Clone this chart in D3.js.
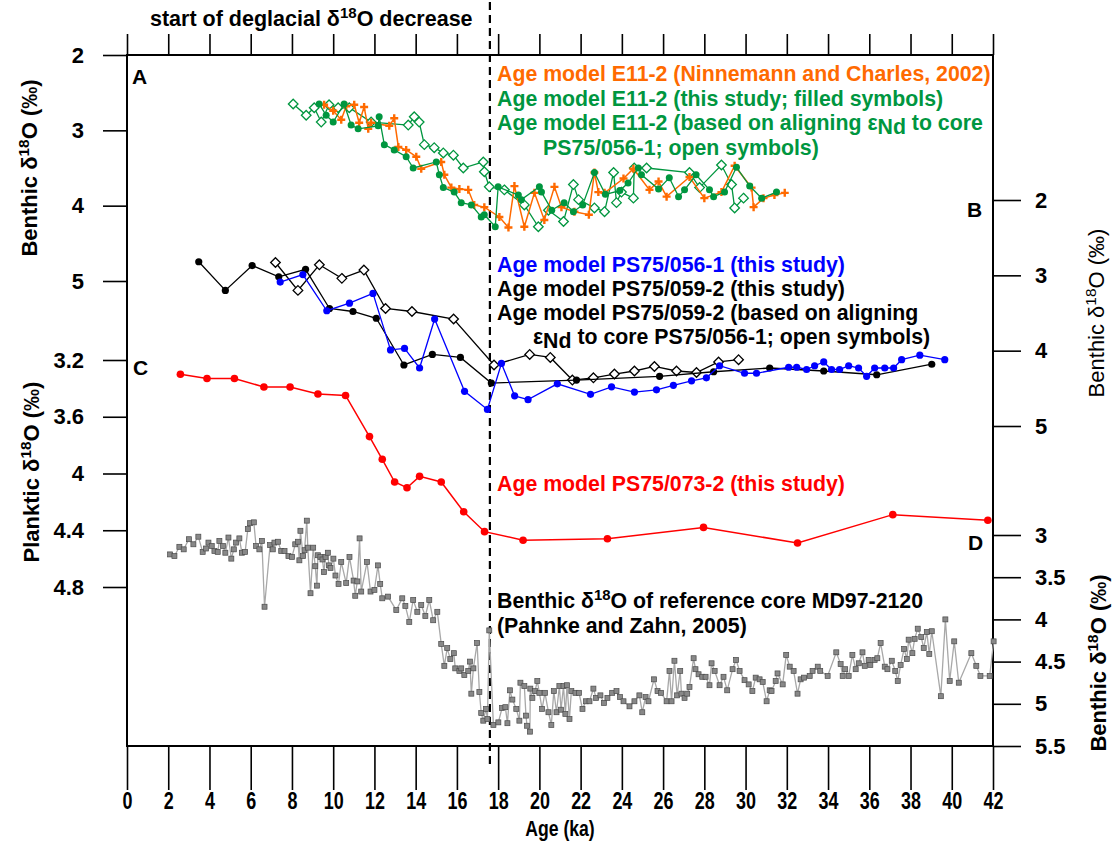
<!DOCTYPE html>
<html>
<head>
<meta charset="utf-8">
<script src="https://cdn.jsdelivr.net/npm/d3@7/dist/d3.min.js"></script>
<style>
  body { margin: 0; background: #fff; }
</style>
</head>
<body>
<div id="chart"></div>
<script>
// ---- data (age ka, d18O permil) ----
const ageTicks = [0,2,4,6,8,10,12,14,16,18,20,22,24,26,28,30,32,34,36,38,40,42];
const tickA = [2,3,4,5];
const tickB = [2,3,4,5];
const tickC = [3.2,3.6,4,4.4,4.8];
const tickD = [3,3.5,4,4.5,5,5.5];
const deglacialStart = 17.6;

// panel A: core E11-2
const e11Ninnemann = [[9.56,2.66],[10.0,2.74],[10.39,2.86],[10.63,2.68],[11.02,2.66],[11.26,2.90],[11.5,2.69],[11.7,2.98],[11.84,2.90],[12.72,2.94],[12.96,2.84],[13.16,3.22],[13.54,3.26],[14.03,3.35],[14.27,3.51],[15.24,3.42],[15.39,3.59],[15.73,3.76],[16.12,3.78],[16.55,3.79],[16.84,3.99],[17.33,4.02],[18.06,4.15],[18.5,4.29],[18.79,3.74],[19.27,4.28],[19.76,3.83],[20.24,4.19],[20.73,3.75],[21.07,4.02],[21.7,4.08],[22.4,4.12],[22.67,3.56],[22.86,3.82],[23.16,3.83],[24.08,3.64],[24.56,3.51],[25.34,3.79],[25.78,3.68],[26.17,3.88],[27.28,3.62],[28.0,3.90],[28.83,3.82],[29.47,3.47],[30.29,3.76],[30.39,4.02],[30.87,3.90],[31.4,3.86],[31.9,3.83]];
const e11Filled = [[9.32,2.65],[9.66,2.80],[10.0,2.89],[10.53,2.65],[10.87,2.93],[11.21,2.98],[12.18,2.94],[12.23,2.82],[12.48,3.19],[12.96,3.26],[13.54,3.35],[13.88,3.50],[15.0,3.42],[15.15,3.59],[15.34,3.76],[15.87,3.82],[16.21,3.96],[16.7,3.99],[17.18,4.15],[17.33,4.12],[17.86,4.28],[18.0,3.75],[18.98,3.86],[19.13,3.92],[20.0,3.75],[20.1,3.82],[20.6,4.06],[21.2,3.96],[21.65,4.08],[22.1,3.99],[22.67,3.56],[23.2,3.85],[23.9,3.80],[24.3,3.70],[24.8,3.50],[24.95,3.59],[25.78,3.78],[26.3,3.63],[26.75,3.88],[27.04,3.79],[27.6,3.59],[28.25,3.79],[28.45,3.88],[28.98,3.82],[29.56,3.49],[30.2,3.74],[30.78,3.90],[31.5,3.82]];
const e11Open = [[8.06,2.65],[8.69,2.80],[9.08,2.70],[9.42,2.89],[9.8,2.66],[10.24,2.70],[10.78,2.70],[11.84,2.89],[13.64,2.93],[13.93,2.82],[14.17,2.89],[14.42,3.19],[14.9,3.23],[15.34,3.30],[15.83,3.33],[16.31,3.50],[17.28,3.42],[17.33,3.55],[17.57,3.75],[18.3,3.79],[19.27,3.99],[19.95,4.28],[20.44,4.06],[21.17,4.21],[21.65,3.72],[21.9,3.92],[22.67,4.03],[23.16,4.08],[23.6,3.56],[23.74,3.96],[23.98,3.82],[24.56,3.90],[24.6,3.50],[25.2,3.50],[27.28,3.56],[27.77,3.76],[28.83,3.46],[29.32,3.72],[29.47,4.03],[29.9,3.90]];

// panel B: cores PS75/056-1 and PS75/059-2
const ps056 = [[7.43,3.09],[8.53,2.99],[9.69,3.47],[10.79,3.37],[11.93,3.24],[12.78,3.99],[13.46,3.97],[14.19,4.23],[14.92,3.58],[16.37,4.54],[17.48,4.78],[18.16,4.17],[18.8,4.60],[19.45,4.65],[20.87,4.44],[22.48,4.58],[23.5,4.48],[24.61,4.55],[25.68,4.52],[26.5,4.46],[27.38,4.40],[28.1,4.36],[28.74,4.20],[29.95,4.30],[30.53,4.30],[32.09,4.22],[32.48,4.22],[32.96,4.25],[33.35,4.20],[33.79,4.15],[34.17,4.25],[34.56,4.25],[35.0,4.20],[35.48,4.23],[35.87,4.34],[36.26,4.23],[36.75,4.23],[37.18,4.23],[37.57,4.12],[38.45,4.06],[39.66,4.12]];
const ps059 = [[3.48,2.82],[4.77,3.20],[6.07,2.87],[7.36,3.02],[8.66,2.92],[9.82,3.44],[10.96,3.48],[12.09,3.57],[13.43,4.19],[14.81,4.05],[16.17,4.09],[17.67,4.43],[21.8,4.39],[25.83,4.34],[28.45,4.28],[31.17,4.23],[33.79,4.27],[36.36,4.32],[39.03,4.18]];
const ps059Open = [[7.2,2.83],[8.29,3.20],[9.33,2.86],[10.42,3.04],[11.49,2.93],[12.54,3.44],[13.82,3.48],[15.84,3.58],[17.8,4.19],[19.53,4.05],[20.53,4.09],[21.6,4.39],[22.62,4.36],[23.64,4.31],[24.61,4.27],[25.58,4.21],[26.65,4.27],[27.62,4.29],[28.69,4.15],[29.66,4.12]];

// panel C: core PS75/073-2 (planktic)
const ps073 = [[2.59,3.30],[3.88,3.33],[5.21,3.33],[6.64,3.39],[7.91,3.39],[9.26,3.44],[10.6,3.45],[11.76,3.74],[12.38,3.90],[12.98,4.06],[13.58,4.10],[14.19,4.02],[15.24,4.06],[16.33,4.27],[17.34,4.41],[19.21,4.47],[23.3,4.46],[27.96,4.38],[32.52,4.49],[37.14,4.29],[41.75,4.33]];

// panel D: reference core MD97-2120
const md97 = [[2.09,3.23],[2.30,3.25],[2.54,3.14],[2.75,3.17],[3.00,3.05],[3.22,3.11],[3.46,3.02],[3.67,3.20],[3.83,3.16],[3.95,3.09],[4.11,3.13],[4.24,3.19],[4.40,3.20],[4.48,3.07],[4.65,3.13],[4.77,3.21],[4.92,3.03],[5.06,3.28],[5.18,3.17],[5.29,3.09],[5.45,3.04],[5.57,3.21],[5.73,3.20],[5.86,2.93],[5.97,2.86],[6.15,2.85],[6.26,3.13],[6.42,3.17],[6.54,3.07],[6.67,3.85],[6.94,3.12],[7.07,3.17],[7.15,3.09],[7.32,3.08],[7.48,3.19],[7.64,3.19],[7.83,3.25],[8.00,3.26],[8.16,3.11],[8.29,3.08],[8.36,3.30],[8.41,2.95],[8.54,3.25],[8.61,3.18],[8.72,2.83],[8.77,3.15],[8.90,3.69],[9.03,3.15],[9.13,3.37],[9.21,3.60],[9.26,3.24],[9.38,3.26],[9.48,3.29],[9.55,3.44],[9.63,3.26],[9.74,3.21],[9.79,3.36],[9.87,3.39],[10.01,3.28],[10.11,3.48],[10.26,3.58],[10.39,3.32],[10.63,3.57],[10.79,3.26],[10.99,3.54],[11.07,3.72],[11.17,3.55],[11.28,3.04],[11.36,3.67],[11.64,3.32],[11.81,3.67],[12.0,3.65],[12.17,3.36],[12.28,3.58],[12.38,3.75],[12.66,3.73],[13.06,3.89],[13.35,3.75],[13.50,3.84],[13.69,4.03],[13.88,3.77],[14.08,3.91],[14.27,3.83],[14.47,3.96],[14.66,3.77],[14.85,4.01],[15.05,3.91],
  [15.24,4.29],[15.39,4.55],[15.53,4.34],[15.68,4.47],[15.85,4.40],[15.92,4.58],[16.12,4.61],[16.21,4.58],[16.36,4.66],[16.55,4.61],[16.63,4.50],[16.70,4.88],[16.80,4.58],[16.98,4.28],[17.09,4.86],[17.18,5.11],[17.28,5.20],[17.41,5.06],[17.48,5.18],[17.57,4.13],[17.77,5.25],[18.01,5.22],[18.19,5.05],[18.35,5.04],[18.45,5.23],[18.57,4.84],[18.69,4.95],[18.88,5.06],[19.03,5.20],[19.08,4.75],[19.27,4.79],[19.35,5.14],[19.40,5.26],[19.54,5.33],[19.56,4.82],[19.66,4.93],[19.79,4.85],[19.90,4.73],[20.0,4.87],[20.13,5.06],[20.27,4.87],[20.44,5.10],[20.58,5.25],[20.70,4.85],[20.83,5.10],[20.97,4.79],[21.05,5.07],[21.17,4.79],[21.26,5.12],[21.34,4.78],[21.46,5.18],[21.55,4.85],[21.75,4.87],[21.92,4.87],[22.09,5.06],[22.26,4.97],[22.43,4.97],[22.62,4.82],[22.75,4.93],[22.96,4.90],[23.13,4.99],[23.30,4.93],[23.53,4.87],[23.74,4.85],[23.91,4.92],[24.08,4.97],[24.37,5.03],[24.61,4.97],[24.85,4.90],[24.99,5.10],[25.15,4.92],[25.29,4.97],[25.56,4.71],[25.73,4.85],[25.90,4.87],[26.17,4.97],[26.31,4.61],[26.41,4.97],[26.55,4.49],[26.68,4.90],[26.83,4.61],[26.89,4.88],[27.04,4.93],[27.17,4.88],[27.28,4.80],[27.48,4.46],[27.57,4.59],[27.72,4.65],[27.90,4.68],[28.06,4.68],[28.25,4.78],[28.35,4.52],[28.50,4.61],[28.74,4.78],[28.93,4.68],[29.11,4.84],[29.37,4.59],[29.54,4.48],[29.71,4.61],[29.95,4.72],[30.15,4.77],[30.33,4.85],[30.49,4.69],[30.68,4.71],[30.83,4.74],[31.02,4.97],[31.17,4.84],[31.26,4.85],[31.46,4.73],[31.55,4.64],[31.80,4.77],[31.97,4.42],[32.14,4.56],[32.33,4.61],[32.52,4.88],[32.67,4.71],[32.84,4.69],[33.11,4.67],[33.25,4.61],[33.50,4.56],[33.62,4.61],[33.98,4.67],[34.40,4.39],[34.61,4.53],[34.71,4.67],[34.83,4.59],[35.0,4.67],[35.18,4.42],[35.34,4.59],[35.49,4.52],[35.67,4.39],[35.78,4.55],[35.97,4.48],[36.05,4.54],[36.26,4.48],[36.39,4.46],[36.55,4.28],[36.75,4.56],[36.88,4.59],[37.09,4.49],[37.26,4.61],[37.38,4.73],[37.52,4.54],[37.69,4.35],[37.82,4.47],[37.91,4.24],[38.09,4.40],[38.20,4.23],[38.35,4.11],[38.52,4.21],[38.64,4.34],[38.79,4.15],[38.91,4.41],[39.03,4.14],[39.47,4.91],[39.69,4.00],[39.90,4.73],[40.12,4.26],[40.34,4.75],[40.95,4.40],[41.19,4.55],[41.39,4.67],[41.84,4.67],[42.03,4.26]];

// ---- layout ----
const W = 1116, H = 842;
const FONT = "Liberation Sans, Arial, sans-serif";
const ORANGE = "#ff6a00", GREEN = "#00963f", BLUE = "#0000ff", RED = "#ff0000";

const svg = d3.select("#chart").append("svg")
  .attr("width", W).attr("height", H)
  .style("font-family", FONT).style("font-weight", "bold");

const x = d3.scaleLinear().domain([0, 42]).range([127, 993]);
const yA = d3.scaleLinear().domain([2, 5]).range([55, 281]);
const yB = d3.scaleLinear().domain([2, 5]).range([200, 426]);
const yC = d3.scaleLinear().domain([3.2, 4.8]).range([360, 587]);
const yD = d3.scaleLinear().domain([3, 5.5]).range([535, 746]);

const fmt = d => (d % 1 ? d.toFixed(1) : d);

function styleAxis(g, size) {
  g.attr("font-family", null).attr("font-size", null);
  g.select(".domain").remove();
  g.selectAll(".tick line").attr("stroke", "#000").attr("stroke-width", 1.6);
  g.selectAll(".tick text").attr("fill", "#000").style("font-size", size + "px");
}

// axes
svg.append("g").attr("transform", "translate(127,0)")
  .call(d3.axisLeft(yA).tickValues(tickA).tickSize(24).tickPadding(19).tickFormat(fmt))
  .call(g => styleAxis(g, 22));
svg.append("g").attr("transform", "translate(127,0)")
  .call(d3.axisLeft(yC).tickValues(tickC).tickSize(24).tickPadding(19).tickFormat(fmt))
  .call(g => styleAxis(g, 22));
svg.append("g").attr("transform", "translate(993,0)")
  .call(d3.axisRight(yB).tickValues(tickB).tickSize(28).tickPadding(14).tickFormat(fmt))
  .call(g => styleAxis(g, 22));
svg.append("g").attr("transform", "translate(993,0)")
  .call(d3.axisRight(yD).tickValues(tickD).tickSize(28).tickPadding(14).tickFormat(fmt))
  .call(g => styleAxis(g, 22));
svg.append("g").attr("transform", "translate(0,746)")
  .call(d3.axisBottom(x).tickValues(ageTicks).tickSize(44).tickPadding(3))
  .call(g => styleAxis(g, 23))
  .call(g => g.selectAll(".tick text").attr("transform", "scale(0.78,1)"));
svg.append("g").attr("transform", "translate(0,55)")
  .call(d3.axisTop(x).tickValues(ageTicks).tickSize(21).tickFormat(""))
  .call(g => styleAxis(g, 10));

// frame
svg.append("rect")
  .attr("x", 127).attr("y", 55).attr("width", 866).attr("height", 691)
  .attr("fill", "none").attr("stroke", "#000").attr("stroke-width", 2);

// deglacial dashed line
svg.append("line")
  .attr("x1", x(deglacialStart)).attr("x2", x(deglacialStart))
  .attr("y1", 2).attr("y2", 767)
  .attr("stroke", "#000").attr("stroke-width", 2.2).attr("stroke-dasharray", "8,5");

// ---- series ----
function drawLine(data, y, color, width) {
  svg.append("path").datum(data)
    .attr("fill", "none").attr("stroke", color).attr("stroke-width", width)
    .attr("d", d3.line().x(d => x(d[0])).y(d => y(d[1])));
}
function drawCircles(data, y, color, r) {
  svg.append("g").selectAll("circle").data(data).join("circle")
    .attr("cx", d => x(d[0])).attr("cy", d => y(d[1])).attr("r", r).attr("fill", color);
}
function drawDiamonds(data, y, color, s) {
  svg.append("g").selectAll("path").data(data).join("path")
    .attr("d", `M0,${-s}L${s},0L0,${s}L${-s},0Z`)
    .attr("transform", d => `translate(${x(d[0])},${y(d[1])})`)
    .attr("fill", "#fff").attr("stroke", color).attr("stroke-width", 1.3);
}
function drawPlus(data, y, color, s) {
  svg.append("g").selectAll("path").data(data).join("path")
    .attr("d", `M${-s},0H${s}M0,${-s}V${s}`)
    .attr("transform", d => `translate(${x(d[0])},${y(d[1])})`)
    .attr("stroke", color).attr("stroke-width", 2.4);
}

// D: reference core
drawLine(md97, yD, "#a8a8a8", 1.3);
svg.append("g").selectAll("rect").data(md97).join("rect")
  .attr("x", d => x(d[0]) - 2.5).attr("y", d => yD(d[1]) - 2.5)
  .attr("width", 5).attr("height", 5)
  .attr("fill", "#888").attr("stroke", "#4a4a4a").attr("stroke-width", 0.7);

// C: planktic
drawLine(ps073, yC, RED, 1.5);
drawCircles(ps073, yC, RED, 3.8);

// B
drawLine(ps059Open, yB, "#000", 1.3);
drawDiamonds(ps059Open, yB, "#000", 4.8);
drawLine(ps059, yB, "#000", 1.3);
drawCircles(ps059, yB, "#000", 3.6);
drawLine(ps056, yB, BLUE, 1.3);
drawCircles(ps056, yB, BLUE, 3.6);

// A
drawLine(e11Open, yA, GREEN, 1.3);
drawDiamonds(e11Open, yA, GREEN, 4.8);
drawLine(e11Ninnemann, yA, ORANGE, 1.5);
drawPlus(e11Ninnemann, yA, ORANGE, 4);
drawLine(e11Filled, yA, GREEN, 1.3);
drawCircles(e11Filled, yA, GREEN, 3.5);

// ---- text ----
function fill(t, parts, size) {
  let shift = 0;
  parts.forEach(p => {
    const [str, s, scale] = typeof p === "string" ? [p, 0, 1] : p;
    t.append("tspan").attr("dy", s - shift).style("font-size", (size * scale) + "px").text(str);
    shift = s;
  });
  return t;
}
function rich(x0, y0, parts, color, size) {
  const t = svg.append("text").attr("x", x0).attr("y", y0).attr("fill", color);
  return fill(t, parts, size);
}
const SUP = ["18", -8, 0.7];
const ND = ["Nd", 4, 1];

rich(150, 26, ["start of deglacial δ", SUP, "O decrease"], "#000", 21.5);

rich(132, 84, ["A"], "#000", 21);
rich(967, 217, ["B"], "#000", 21);
rich(133, 375, ["C"], "#000", 21);
rich(968, 550, ["D"], "#000", 21);

rich(497, 81, ["Age model E11-2 (Ninnemann and Charles, 2002)"], ORANGE, 21.3);
rich(497, 106, ["Age model E11-2 (this study; filled symbols)"], GREEN, 21.3);
rich(497, 130, ["Age model E11-2 (based on aligning ε", ND, [" to core", 0, 1]], GREEN, 21.3);
rich(543, 155, ["PS75/056-1; open symbols)"], GREEN, 21.3);

rich(497, 272, ["Age model PS75/056-1 (this study)"], BLUE, 21.3);
rich(497, 296, ["Age model PS75/059-2 (this study)"], "#000", 21.3);
rich(497, 320, ["Age model PS75/059-2 (based on aligning"], "#000", 21.3);
rich(533, 344, ["ε", ND, [" to core PS75/056-1; open symbols)", 0, 1]], "#000", 21.3);

rich(497, 491, ["Age model PS75/073-2 (this study)"], RED, 21.3);

rich(497, 608, ["Benthic δ", SUP, "O of reference core MD97-2120"], "#000", 21.3);
rich(497, 633, ["(Pahnke and Zahn, 2005)"], "#000", 21.3);

// axis titles
function vtitle(cx, cy, parts, weight) {
  const t = svg.append("g").attr("transform", `translate(${cx},${cy}) rotate(-90)`)
    .append("text").attr("text-anchor", "middle").attr("fill", "#000")
    .style("font-weight", weight);
  fill(t, parts, 22);
}
vtitle(37, 168, ["Benthic δ", SUP, "O (‰)"], "bold");
vtitle(39, 472, ["Planktic δ", SUP, "O (‰)"], "bold");
vtitle(1104, 313, ["Benthic δ", SUP, "O (‰)"], "normal");
vtitle(1106, 663, ["Benthic δ", SUP, "O (‰)"], "bold");

svg.append("text").attr("transform", `translate(${x(21)},836) scale(0.8,1)`)
  .attr("text-anchor", "middle").style("font-size", "22px")
  .text("Age (ka)");
</script>
</body>
</html>
